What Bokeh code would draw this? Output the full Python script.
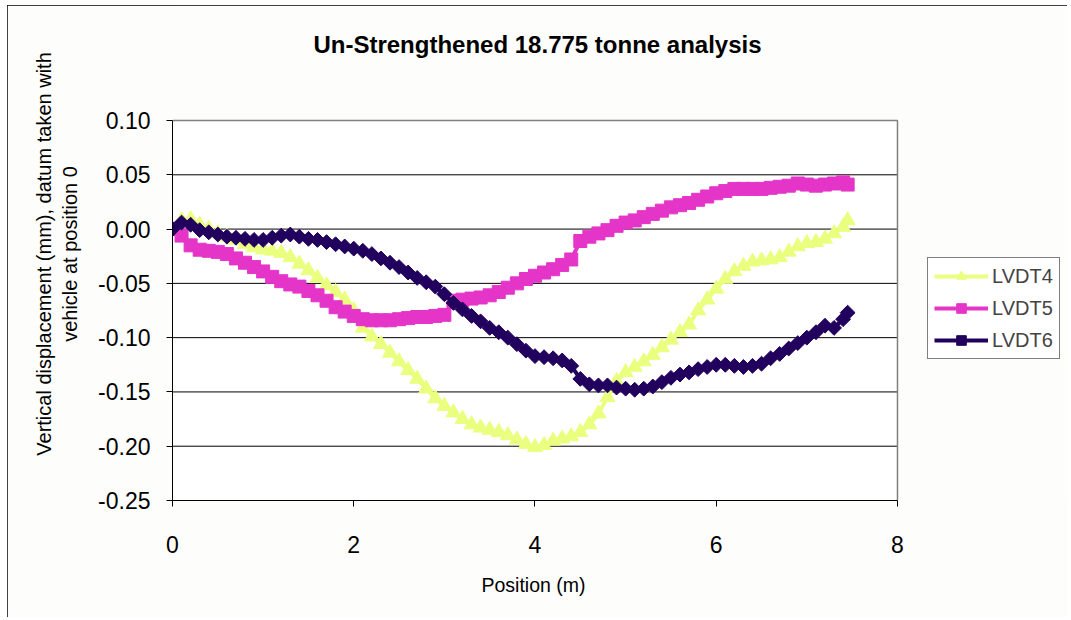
import math
from bokeh.plotting import figure
from bokeh.models import Legend, LegendItem, FixedTicker, PrintfTickFormatter, Label, Title
from bokeh.embed import file_html
from bokeh.resources import INLINE

# ---- data ----
position = [0.0, 0.1, 0.2, 0.3, 0.4, 0.5, 0.6, 0.7, 0.8, 0.9,
            1.0, 1.1, 1.2, 1.3, 1.4, 1.5, 1.6, 1.7, 1.8, 1.9,
            2.0, 2.1, 2.2, 2.3, 2.4, 2.5, 2.6, 2.7, 2.8, 2.9,
            3.0, 3.1, 3.2, 3.3, 3.4, 3.5, 3.6, 3.7, 3.8, 3.9,
            4.0, 4.1, 4.2, 4.3, 4.4, 4.5, 4.6, 4.7, 4.8, 4.9,
            5.0, 5.1, 5.2, 5.3, 5.4, 5.5, 5.6, 5.7, 5.8, 5.9,
            6.0, 6.1, 6.2, 6.3, 6.4, 6.5, 6.6, 6.7, 6.8, 6.9,
            7.0, 7.1, 7.2, 7.3, 7.4, 7.45]

lvdt4 = [0.000, 0.008, 0.009, 0.004, 0.000, -0.004, -0.007, -0.010, -0.014, -0.017,
         -0.019, -0.020, -0.022, -0.026, -0.032, -0.038, -0.045, -0.052, -0.058, -0.065,
         -0.075, -0.091, -0.099, -0.106, -0.114, -0.122, -0.130, -0.138, -0.147, -0.156,
         -0.163, -0.169, -0.175, -0.180, -0.183, -0.185, -0.187, -0.190, -0.194, -0.198,
         -0.201, -0.199, -0.195, -0.193, -0.191, -0.187, -0.180, -0.170, -0.155, -0.140,
         -0.132, -0.127, -0.122, -0.116, -0.109, -0.102, -0.095, -0.088, -0.075, -0.065,
         -0.055, -0.046, -0.039, -0.034, -0.030, -0.029, -0.028, -0.026, -0.021, -0.016,
         -0.013, -0.012, -0.009, -0.004, 0.002, 0.008]

lvdt5 = [0.000, -0.006, -0.015, -0.019, -0.020, -0.021, -0.023, -0.027, -0.031, -0.035,
         -0.039, -0.044, -0.048, -0.051, -0.053, -0.057, -0.061, -0.066, -0.072, -0.076,
         -0.080, -0.083, -0.084, -0.084, -0.084, -0.083, -0.082, -0.081, -0.081, -0.080,
         -0.079, -0.066, -0.065, -0.064, -0.063, -0.061, -0.058, -0.054, -0.050, -0.046,
         -0.043, -0.040, -0.037, -0.033, -0.028, -0.011, -0.007, -0.004, -0.001, 0.003,
         0.006, 0.008, 0.011, 0.014, 0.017, 0.020, 0.022, 0.024, 0.027, 0.030,
         0.033, 0.035, 0.037, 0.037, 0.037, 0.037, 0.038, 0.039, 0.040, 0.042,
         0.041, 0.040, 0.041, 0.042, 0.043, 0.041]

lvdt6 = [0.000, 0.006, 0.004, -0.001, -0.003, -0.005, -0.007, -0.008, -0.009, -0.010,
         -0.010, -0.008, -0.006, -0.005, -0.007, -0.009, -0.010, -0.012, -0.014, -0.016,
         -0.018, -0.020, -0.023, -0.027, -0.031, -0.035, -0.040, -0.045, -0.049, -0.053,
         -0.060, -0.068, -0.074, -0.080, -0.085, -0.091, -0.095, -0.100, -0.106, -0.112,
         -0.117, -0.118, -0.119, -0.121, -0.126, -0.138, -0.143, -0.144, -0.144, -0.146,
         -0.147, -0.148, -0.147, -0.145, -0.141, -0.137, -0.134, -0.132, -0.129, -0.127,
         -0.125, -0.125, -0.126, -0.127, -0.126, -0.124, -0.119, -0.115, -0.110, -0.105,
         -0.100, -0.095, -0.089, -0.091, -0.083, -0.077]

series_names = ["LVDT4", "LVDT5", "LVDT6"]
x_ticks = [0, 2, 4, 6, 8]
y_ticks = [-0.25, -0.20, -0.15, -0.10, -0.05, 0.0, 0.05, 0.10]
grid_values = [-0.20, -0.15, -0.10, -0.05, 0.0, 0.05]

title_text = "Un-Strengthened 18.775 tonne analysis"
x_label = "Position (m)"
y_label = "Vertical displacement (mm), datum taken with\nvehicle at position 0"

FONT = "Liberation Sans"
BG = "#FDFDFB"

x_lo, x_hi = x_ticks[0], x_ticks[-1]
y_lo, y_hi = y_ticks[0], y_ticks[-1]

# The frame is extended to the right and upwards so that the legend and the
# title (annotations) are not clipped; the axes are bounded to the data area.
p = figure(width=1060, height=612, output_backend="svg", toolbar_location=None,
           title=None,
           x_range=(x_lo, 9.843), y_range=(y_lo, 0.2041),
           min_border_left=165, min_border_right=3,
           min_border_top=2, min_border_bottom=117,
           background_fill_color=BG, border_fill_color=BG)
p.styles = {"outline": "1px solid #000000", "outline-offset": "-1px",
            "margin-left": "7px", "margin-top": "5px"}
p.outline_line_color = None

# axes
p.xaxis.bounds = (x_lo, x_hi)
p.yaxis.bounds = (y_lo, y_hi)
p.xaxis.ticker = FixedTicker(ticks=x_ticks)
p.yaxis.ticker = FixedTicker(ticks=y_ticks)
p.yaxis.formatter = PrintfTickFormatter(format="%.2f")
for ax in (p.xaxis[0], p.yaxis[0]):
    ax.axis_line_color = "#000000"
    ax.axis_line_width = 1
    ax.major_tick_line_color = "#000000"
    ax.major_tick_in = 0
    ax.major_tick_out = 6
    ax.minor_tick_line_color = None
    ax.major_label_text_font = FONT
    ax.major_label_text_font_size = "23px"
    ax.major_label_text_color = "#000000"
    ax.axis_label_text_font = FONT
    ax.axis_label_text_font_style = "normal"
    ax.axis_label_text_color = "#000000"
p.yaxis.major_label_standoff = 16
p.xaxis.major_label_standoff = 29

p.yaxis.axis_label = y_label
p.yaxis.axis_label_text_font_size = "20px"
p.yaxis.axis_label_standoff = 14

# x-axis title, centred under the data area (x = 0..8)
p.add_layout(Title(text=x_label, align="left", offset=309, standoff=32,
                   text_font=FONT, text_font_size="19.5px", text_font_style="normal",
                   text_color="#000000"), "below")

# grid lines and plot-area border, limited to the data area
p.xgrid.grid_line_color = None
p.ygrid.grid_line_color = None
p.rect(x=[(x_lo + x_hi) / 2], y=[(y_lo + y_hi) / 2], width=[x_hi - x_lo],
       height=[y_hi - y_lo], fill_color="#FFFFFF", line_color=None)
p.segment(x0=[x_lo] * len(grid_values), y0=grid_values,
          x1=[x_hi] * len(grid_values), y1=grid_values,
          line_color="#000000", line_width=1)
p.line([x_lo, x_hi, x_hi], [y_hi, y_hi, y_lo], line_color="#808080", line_width=1.5)

# series
l4 = p.line(position, lvdt4, line_color="#EBFF7F", line_width=4)
s4 = p.scatter(position, lvdt4, marker="triangle", size=15,
               fill_color="#EBFF7F", line_color="#EBFF7F")
l5 = p.line(position, lvdt5, line_color="#E535C8", line_width=4)
s5 = p.scatter(position, lvdt5, marker="square", size=13,
               fill_color="#E535C8", line_color="#E535C8")
l6 = p.line(position, lvdt6, line_color="#21005E", line_width=4)
s6 = p.scatter(position, lvdt6, marker="square", size=10.5, angle=math.pi / 4,
               fill_color="#21005E", line_color="#21005E")

legend = Legend(items=[LegendItem(label=series_names[0], renderers=[l4, s4]),
                       LegendItem(label=series_names[1], renderers=[l5, s5]),
                       LegendItem(label=series_names[2], renderers=[l6, s6])],
                location=(755, 141), orientation="vertical",
                border_line_color="#000000", border_line_width=1,
                background_fill_color="#FFFFFF", background_fill_alpha=1,
                label_text_font=FONT, label_text_font_size="20px",
                glyph_width=54, glyph_height=24, label_height=24,
                spacing=8, padding=6, margin=0, label_standoff=4)
p.add_layout(legend)

p.add_layout(Label(x=365, y=456, x_units="screen", y_units="screen",
                   text=title_text, text_font=FONT, text_font_size="24px",
                   text_font_style="bold", text_color="#000000",
                   text_align="center", text_baseline="middle"))

open("out.html", "w").write(file_html(p, INLINE))
